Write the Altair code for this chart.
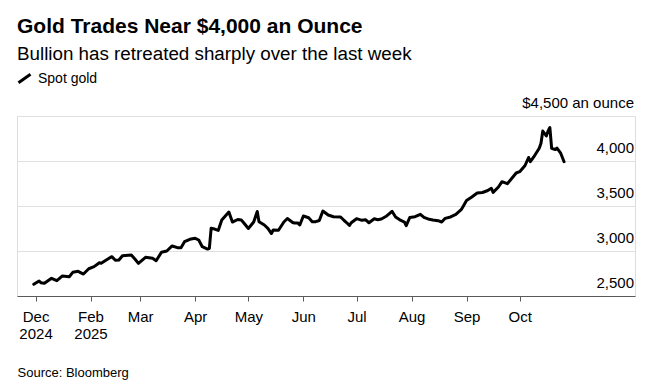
import altair as alt
import pandas as pd

# ---- data ----
dates = [
    "2024-12-31", "2025-01-03", "2025-01-04", "2025-01-06", "2025-01-10", "2025-01-13",
    "2025-01-16", "2025-01-20", "2025-01-22", "2025-01-25", "2025-01-28", "2025-01-31",
    "2025-02-03", "2025-02-06", "2025-02-07", "2025-02-11", "2025-02-13", "2025-02-15",
    "2025-02-17", "2025-02-19", "2025-02-24", "2025-02-26", "2025-02-28", "2025-03-04",
    "2025-03-08", "2025-03-10", "2025-03-13", "2025-03-16", "2025-03-19", "2025-03-22",
    "2025-03-24", "2025-03-26", "2025-03-29", "2025-04-01", "2025-04-03", "2025-04-05",
    "2025-04-08", "2025-04-09", "2025-04-10", "2025-04-12", "2025-04-14", "2025-04-16",
    "2025-04-17", "2025-04-20", "2025-04-22", "2025-04-25", "2025-04-27", "2025-04-28",
    "2025-05-01", "2025-05-04", "2025-05-06", "2025-05-07", "2025-05-10", "2025-05-12",
    "2025-05-14", "2025-05-15", "2025-05-18", "2025-05-21", "2025-05-23", "2025-05-26",
    "2025-05-27", "2025-05-29", "2025-05-30", "2025-06-01", "2025-06-04", "2025-06-06",
    "2025-06-08", "2025-06-10", "2025-06-12", "2025-06-15", "2025-06-18", "2025-06-22",
    "2025-06-24", "2025-06-25", "2025-06-27", "2025-06-28", "2025-07-01", "2025-07-04",
    "2025-07-06", "2025-07-08", "2025-07-11", "2025-07-13", "2025-07-15", "2025-07-18",
    "2025-07-21", "2025-07-23", "2025-07-26", "2025-07-28", "2025-07-29", "2025-07-31",
    "2025-08-03", "2025-08-06", "2025-08-08", "2025-08-11", "2025-08-13", "2025-08-16",
    "2025-08-18", "2025-08-20", "2025-08-23", "2025-08-26", "2025-08-29", "2025-08-30",
    "2025-09-01", "2025-09-04", "2025-09-07", "2025-09-10", "2025-09-13", "2025-09-15",
    "2025-09-16", "2025-09-19", "2025-09-21", "2025-09-24", "2025-09-26", "2025-09-29",
    "2025-10-01", "2025-10-04", "2025-10-06", "2025-10-07", "2025-10-09", "2025-10-12",
    "2025-10-13", "2025-10-14", "2025-10-16", "2025-10-17", "2025-10-18", "2025-10-19",
    "2025-10-21", "2025-10-22", "2025-10-24", "2025-10-26",
]
prices = [
    2630, 2667, 2648, 2641, 2697, 2670,
    2722, 2714, 2763, 2774, 2744, 2803,
    2826, 2870, 2863, 2914, 2937, 2897,
    2900, 2948, 2956, 2911, 2863, 2930,
    2919, 2892, 2986, 3000, 3056, 3037,
    3035, 3103, 3130, 3141, 3122, 3048,
    3022, 3030, 3252, 3244, 3228, 3344,
    3367, 3433, 3322, 3350, 3344, 3322,
    3250, 3322, 3439, 3326, 3289, 3252,
    3194, 3233, 3230, 3322, 3361, 3317,
    3311, 3310, 3289, 3389, 3369, 3324,
    3326, 3339, 3444, 3400, 3381, 3378,
    3339, 3322, 3285, 3314, 3359, 3341,
    3348, 3314, 3358, 3348, 3356, 3389,
    3441, 3378, 3339, 3322, 3281, 3372,
    3381, 3408, 3374, 3352, 3344, 3337,
    3322, 3363, 3378, 3406, 3459, 3492,
    3561, 3600, 3644, 3650, 3672, 3697,
    3652, 3711, 3770, 3748, 3794, 3867,
    3881, 3950, 4039, 3992, 4048, 4141,
    4197, 4333, 4278, 4333, 4372, 4141,
    4128, 4144, 4091, 3992,
]
series_name = "Spot gold"

tick_months = [1, 2, 3, 4, 5, 6, 7, 8, 9, 10]          # ticks on the 1st of each month, 2025
tick_labels = [["Dec", "2024"], ["Feb", "2025"], "Mar", "Apr", "May",
               "Jun", "Jul", "Aug", "Sep", "Oct"]
y_ticks = [2500, 3000, 3500, 4000, 4500]
top_label = "$4,500 an ounce"

title_text = "Gold Trades Near $4,000 an Ounce"
subtitle_text = "Bullion has retreated sharply over the last week"
source_text = "Source: Bloomberg"

df = pd.DataFrame({"date": dates, "price": prices, "series": series_name})

FONT = "Liberation Sans"


def lab(v):
    if isinstance(v, list):
        return "[" + ",".join("'" + s + "'" for s in v) + "]"
    return "'" + v + "'"


label_expr = "''"
for m, l in reversed(list(zip(tick_months, tick_labels))):
    label_expr = f"utcmonth(datum.value) == {m - 1} ? {lab(l)} : ({label_expr})"

y_label_expr = f"datum.value == {y_ticks[-1]} ? '{top_label}' : format(datum.value, ',')"

x_enc = alt.X(
    "date:T",
    scale=alt.Scale(
        type="utc",
        domain=[
            alt.DateTime(year=2024, month=12, date=21, hours=13, utc=True),
            alt.DateTime(year=2025, month=12, date=5, utc=True),
        ],
    ),
    axis=alt.Axis(
        values=[alt.DateTime(year=2025, month=m, date=1, utc=True) for m in tick_months],
        labelExpr=label_expr,
        grid=False,
        domainColor="#5a5a5a",
        domainWidth=1,
        tickColor="#5a5a5a",
        tickSize=5,
        tickWidth=1,
        labelFont=FONT,
        labelFontSize=15,
        labelColor="#000000",
        labelPadding=8,
        labelLineHeight=17.5,
        labelOverlap=False,
        labelFlush=False,
        labelAlign="center",
        labelBaseline="top",
        title=source_text,
        titleFont=FONT,
        titleFontSize=13,
        titleFontWeight="normal",
        titleColor="#000000",
        titleAnchor="start",
        titleAlign="left",
        titleBaseline="alphabetic",
        titleX=0,
        titleY=80,
    ),
)

y_enc = alt.Y(
    "price:Q",
    scale=alt.Scale(domain=[y_ticks[0], y_ticks[-1]], nice=False, zero=False),
    axis=alt.Axis(
        orient="right",
        values=y_ticks,
        labelExpr=y_label_expr,
        domain=False,
        ticks=False,
        grid=True,
        gridColor="#e0e0e0",
        gridWidth=1,
        labelFont=FONT,
        labelFontSize=15,
        labelColor="#000000",
        labelAlign="right",
        labelBaseline="alphabetic",
        labelPadding=-1.5,
        labelOffset=-9,
        labelFlush=False,
        labelOverlap=False,
        title=None,
    ),
)

chart = (
    alt.Chart(df)
    .mark_line(strokeWidth=3, strokeJoin="round", strokeCap="round")
    .encode(
        x=x_enc,
        y=y_enc,
        color=alt.Color(
            "series:N",
            scale=alt.Scale(domain=[series_name], range=["#000000"]),
            legend=alt.Legend(
                orient="none",
                legendX=0,
                legendY=-45,
                title=None,
                symbolType="M-1,0.7L1,-0.7",
                symbolSize=144,
                symbolStrokeWidth=3,
                symbolStrokeColor="#000000",
                labelFont=FONT,
                labelFontSize=14,
                labelColor="#000000",
                labelOffset=6,
                padding=0,
            ),
        ),
    )
    .properties(
        width=618,
        height=180,
        padding={"left": 9, "top": 108, "right": 15, "bottom": 86},
        autosize=alt.AutoSizeParams(type="none"),
        title=alt.TitleParams(
            text=title_text,
            subtitle=subtitle_text,
            anchor="start",
            frame="group",
            font=FONT,
            fontSize=21,
            fontWeight="bold",
            color="#000000",
            subtitleFont=FONT,
            subtitleFontSize=18.8,
            subtitleColor="#000000",
            subtitlePadding=8,
            offset=7,
        ),
    )
    .configure_view(stroke=None)
    .configure(background="#ffffff")
)

chart.save("out.html", embed_options={"renderer": "svg", "actions": False})
